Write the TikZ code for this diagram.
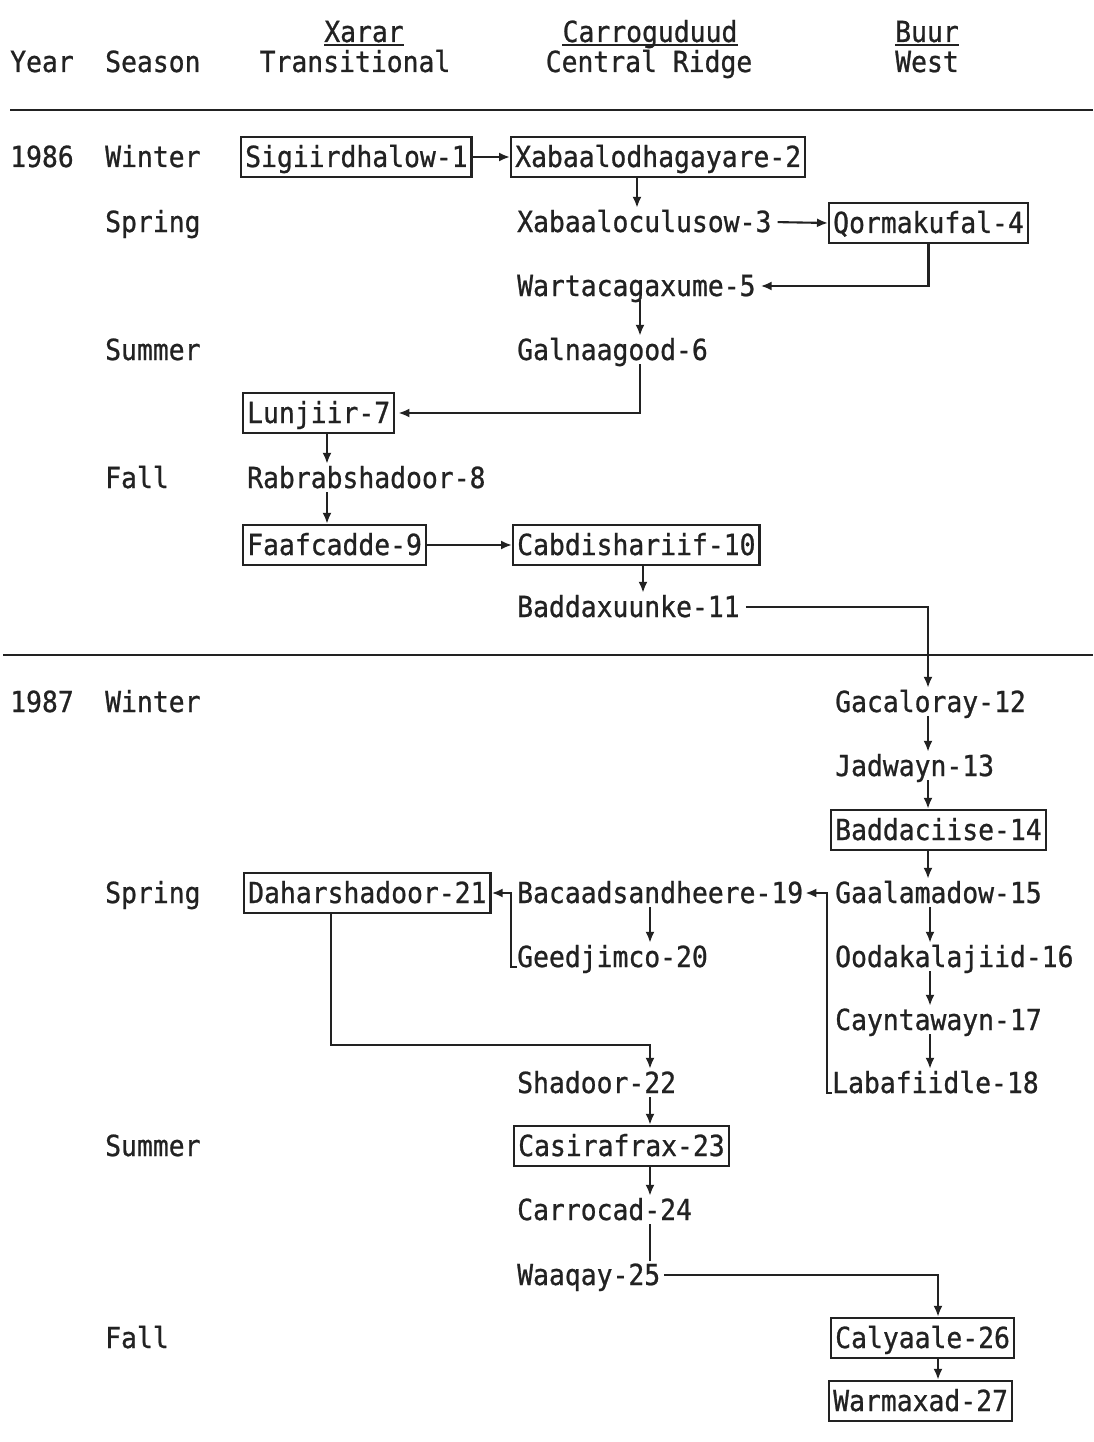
\documentclass[tikz,border=0pt]{standalone}
\usepackage{fontspec}
\newfontfamily\tw[FakeStretch=0.91,FakeBold=0.8]{DejaVu Sans Mono}
\usetikzlibrary{arrows.meta}
\definecolor{ink}{HTML}{222222}
\begin{document}
\begin{tikzpicture}[x=1pt,y=-1pt,
  every node/.style={font=\tw\fontsize{29}{34}\selectfont, text=ink},
  lab/.style={anchor=west, inner xsep=0pt, inner ysep=0pt, text height=24pt, text depth=4pt},
  hd/.style={anchor=center, inner sep=0pt, text height=24pt, text depth=4pt},
  bx/.style={draw=ink, line width=2.4pt, anchor=west, inner xsep=4pt, inner ysep=6pt, text height=24pt, text depth=4pt},
  arr/.style={draw=ink, line width=2.1pt, -{Latex[length=11pt,width=9pt]}},
  ln/.style={draw=ink, line width=2.1pt},
  rule/.style={draw=ink, line width=2pt},
  ul/.style={draw=ink, line width=2pt}]
\useasboundingbox[fill=white] (0,0) rectangle (1093,1442);

% column coordinates
\coordinate (x327) at (327,0);
\coordinate (x331) at (331,0);
\coordinate (x637) at (637,0);
\coordinate (x640) at (640,0);
\coordinate (x643) at (643,0);
\coordinate (x650) at (650,0);
\coordinate (x928) at (928,0);
\coordinate (x930) at (930,0);
\coordinate (x938) at (938,0);
\coordinate (j1045) at (0,1045);

% headers
\node[hd] (hX) at (364,32) {Xarar};
\node[hd] (hT) at (355,62) {Transitional};
\node[hd] (hC) at (650,32) {Carroguduud};
\node[hd] (hR) at (649,62) {Central Ridge};
\node[hd] (hB) at (927,32) {Buur};
\node[hd] (hW) at (927,62) {West};
\draw[ul] ([yshift=-3pt]hX.base west) -- ([yshift=-3pt]hX.base east);
\draw[ul] ([yshift=-3pt]hC.base west) -- ([yshift=-3pt]hC.base east);
\draw[ul] ([yshift=-3pt]hB.base west) -- ([yshift=-3pt]hB.base east);
\node[lab] (year) at (10,62) {Year};
\node[lab] (season) at (105,62) {Season};

\draw[rule] (10,110) -- (1093,110);
\draw[rule] (3,655) -- (1093,655);

% left labels
\node[lab] (y86) at (10,157) {1986};
\node[lab] (w86) at (105,157) {Winter};
\node[lab] (sp86) at (105,222) {Spring};
\node[lab] (su86) at (105,350) {Summer};
\node[lab] (fa86) at (105,478) {Fall};
\node[lab] (y87) at (10,702) {1987};
\node[lab] (w87) at (105,702) {Winter};
\node[lab] (sp87) at (105,893) {Spring};
\node[lab] (su87) at (105,1146) {Summer};
\node[lab] (fa87) at (105,1338) {Fall};

% sites
\node[bx] (s1) at (240,157) {Sigiirdhalow-1};
\node[bx] (s2) at (510,157) {Xabaalodhagayare-2};
\node[lab] (n3) at (517,222) {Xabaaloculusow-3};
\node[bx] (q4) at (828,223) {Qormakufal-4};
\node[lab] (n5) at (517,286) {Wartacagaxume-5};
\node[lab] (n6) at (517,350) {Galnaagood-6};
\node[bx] (l7) at (242,413) {Lunjiir-7};
\node[lab] (n8) at (247,478) {Rabrabshadoor-8};
\node[bx] (f9) at (242,545) {Faafcadde-9};
\node[bx] (c10) at (512,545) {Cabdishariif-10};
\node[lab] (n11) at (517,607) {Baddaxuunke-11};
\node[lab] (n12) at (835,702) {Gacaloray-12};
\node[lab] (n13) at (835,766) {Jadwayn-13};
\node[bx] (b14) at (830,830) {Baddaciise-14};
\node[lab] (n15) at (835,893) {Gaalamadow-15};
\node[lab] (n16) at (835,957) {Oodakalajiid-16};
\node[lab] (n17) at (835,1020) {Cayntawayn-17};
\node[lab] (n18) at (832,1083) {Labafiidle-18};
\node[lab] (n19) at (517,893) {Bacaadsandheere-19};
\node[lab] (n20) at (517,957) {Geedjimco-20};
\node[bx] (d21) at (243,893) {Daharshadoor-21};
\node[lab] (n22) at (517,1083) {Shadoor-22};
\node[bx] (c23) at (513,1146) {Casirafrax-23};
\node[lab] (n24) at (517,1210) {Carrocad-24};
\node[lab] (n25) at (517,1275) {Waaqay-25};
\node[bx] (c26) at (830,1338) {Calyaale-26};
\node[bx] (w27) at (828,1401) {Warmaxad-27};

% connectors
\draw[arr] (s1.east) -- (s2.west);
\draw[arr] (x637 |- s2.south) -- (x637 |- n3.north);
\draw[arr, shorten <=6pt] (n3.east) -- (q4.west);
\draw[arr, shorten >=5pt] (q4.south) |- (n5.east);
\draw[arr] (x640 |- n5.south) -- (x640 |- n6.north);
\draw[arr, shorten >=3pt] (x640 |- n6.south) |- (l7.east);
\draw[arr] (x327 |- l7.south) -- (x327 |- n8.north);
\draw[arr] (x327 |- n8.south) -- (x327 |- f9.north);
\draw[arr] (f9.east) -- (c10.west);
\draw[arr] (x643 |- c10.south) -- (x643 |- n11.north);
\draw[arr, shorten <=6pt] (n11.east) -| (x928 |- n12.north);
\draw[arr] (x928 |- n12.south) -- (x928 |- n13.north);
\draw[arr] (x928 |- n13.south) -- (x928 |- b14.north);
\draw[arr] (x928 |- b14.south) -- (x928 |- n15.north);
\draw[arr] (x930 |- n15.south) -- (x930 |- n16.north);
\draw[arr] (x930 |- n16.south) -- (x930 |- n17.north);
\draw[arr] (x930 |- n17.south) -- (x930 |- n18.north);
\draw[arr, shorten >=2pt] (n18.base west) -- ++(-5,0) |- (n19.east);
\draw[arr] (x650 |- n19.south) -- (x650 |- n20.north);
\draw[arr] (n20.base west) -- ++(-6,0) |- (d21.east);
\draw[arr] (x331 |- d21.south) |- (x650 |- j1045) -- (x650 |- n22.north);
\draw[arr] (x650 |- n22.south) -- (x650 |- c23.north);
\draw[arr] (x650 |- c23.south) -- (x650 |- n24.north);
\draw[ln] (x650 |- n24.south) -- (x650 |- n25.north);
\draw[arr, shorten <=4pt] (n25.east) -| (x938 |- c26.north);
\draw[arr] (x938 |- c26.south) -- (x938 |- w27.north);
\end{tikzpicture}
\end{document}
